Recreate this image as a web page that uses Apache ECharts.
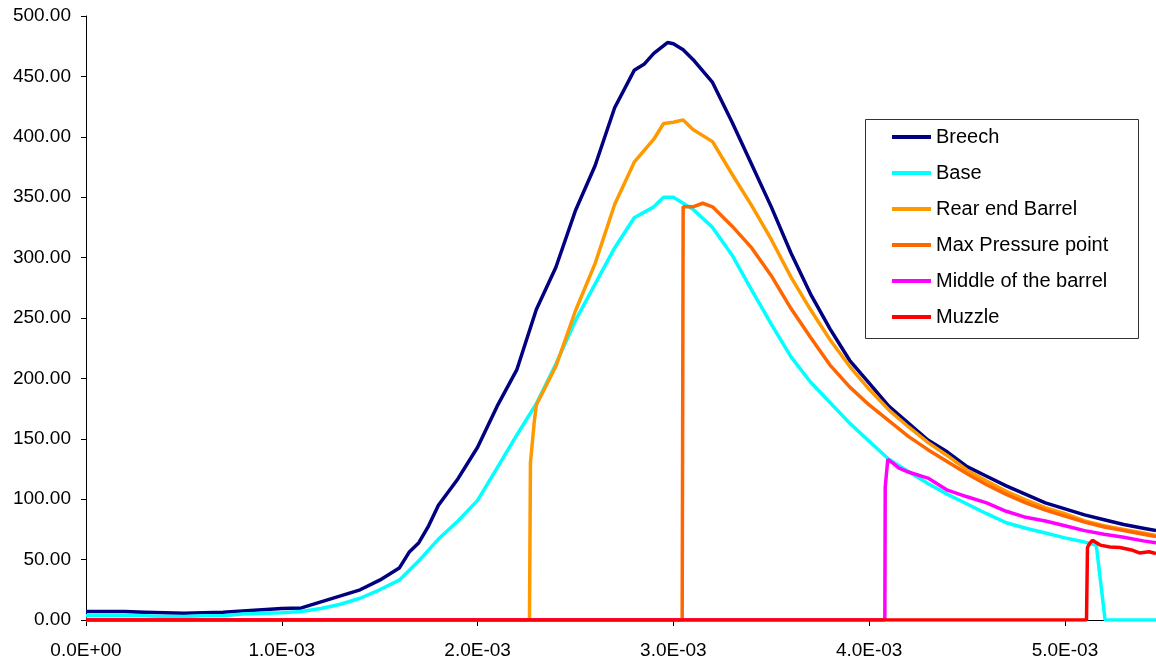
<!DOCTYPE html>
<html>
<head>
<meta charset="utf-8">
<script src="https://cdn.jsdelivr.net/npm/echarts@6/dist/echarts.min.js"></script>
<style>
  html, body { margin: 0; padding: 0; background: #fff; }
  #chart { width: 1156px; height: 664px; }
</style>
</head>
<body>
<div id="chart"></div>
<script>
// time in ms, pressure values
const seriesNames = ['Breech', 'Base', 'Rear end Barrel', 'Max Pressure point', 'Middle of the barrel', 'Muzzle'];
const seriesColors = ['#000080', '#00FFFF', '#FF9900', '#FF6600', '#FF00FF', '#FF0000'];

const breechT = [0, 0.1, 0.2, 0.3, 0.4, 0.5, 0.6, 0.7, 0.8, 0.9, 1.0, 1.1, 1.2, 1.3, 1.4, 1.5, 1.6, 1.65, 1.7, 1.75, 1.8, 1.9, 2.0, 2.1, 2.2, 2.3, 2.4, 2.5, 2.6, 2.7, 2.8, 2.85, 2.9, 2.97, 3.0, 3.05, 3.1, 3.2, 3.3, 3.4, 3.5, 3.6, 3.7, 3.8, 3.9, 4.0, 4.1, 4.2, 4.3, 4.4, 4.5, 4.6, 4.7, 4.8, 4.9, 5.0, 5.1, 5.2, 5.3, 5.4, 5.465];
const breechP = [7, 7, 7, 6.5, 6, 5.5, 6, 6.5, 7.5, 8.5, 9.5, 10, 15, 20, 25, 33, 43, 56, 64, 78, 95, 117, 143, 177, 207, 257, 292, 339, 376, 424, 455, 460, 469, 478, 477, 472, 464, 445, 412, 377, 342, 304, 270, 241, 215, 196, 177, 163, 149, 139, 127, 119, 111, 104, 97, 92, 87, 83, 79, 76, 74];

const baseT = [0, 0.1, 0.2, 0.3, 0.4, 0.5, 0.6, 0.7, 0.8, 0.9, 1.0, 1.1, 1.2, 1.3, 1.4, 1.5, 1.6, 1.7, 1.8, 1.9, 2.0, 2.1, 2.2, 2.3, 2.4, 2.5, 2.6, 2.7, 2.8, 2.9, 2.95, 3.0, 3.1, 3.2, 3.3, 3.4, 3.5, 3.6, 3.7, 3.8, 3.9, 4.0, 4.1, 4.2, 4.3, 4.4, 4.5, 4.6, 4.7, 4.8, 4.9, 5.0, 5.1, 5.16, 5.205, 5.3, 5.465];
const baseP = [3.5, 3.5, 3.5, 3.5, 3, 3, 3.5, 3.5, 5, 5.5, 6, 7, 9.5, 13, 18, 25, 33, 49, 67, 82, 99, 126, 153, 179, 212, 248, 278, 308, 333, 342, 350, 350, 340, 325, 302, 273, 245, 218, 197, 180, 163, 148, 133, 123, 113, 104, 96, 88, 80.5, 76, 72, 68, 64.5, 62, 0, 0, 0];

const rearT = [0, 2.265, 2.27, 2.29, 2.30, 2.4, 2.5, 2.6, 2.7, 2.8, 2.9, 2.95, 3.0, 3.05, 3.1, 3.2, 3.3, 3.4, 3.5, 3.6, 3.7, 3.8, 3.9, 4.0, 4.1, 4.2, 4.3, 4.4, 4.5, 4.6, 4.7, 4.8, 4.9, 5.0, 5.1, 5.2, 5.3, 5.4, 5.465];
const rearP = [0, 0, 130, 165, 178, 210, 256, 295, 344, 379, 398, 411, 412, 414, 406, 396, 369, 343, 315, 284, 257, 232, 210, 191, 174, 160, 147, 136, 124, 115, 106.5, 99.5, 93, 88, 82, 78, 75, 72, 70];

const maxT = [0, 3.045, 3.05, 3.1, 3.15, 3.2, 3.3, 3.4, 3.5, 3.6, 3.7, 3.8, 3.9, 4.0, 4.1, 4.2, 4.3, 4.4, 4.5, 4.6, 4.7, 4.8, 4.9, 5.0, 5.1, 5.2, 5.3, 5.4, 5.465];
const maxP = [0, 0, 342, 342, 345, 342, 326, 308, 285, 258, 234, 211, 193, 178, 165, 152, 141, 131, 121, 112, 104, 97, 91, 86, 81, 77, 74, 71, 69];

const middleT = [0, 4.08, 4.082, 4.095, 4.12, 4.15, 4.2, 4.3, 4.4, 4.5, 4.6, 4.7, 4.8, 4.9, 5.0, 5.1, 5.2, 5.3, 5.4, 5.465];
const middleP = [0, 0, 110, 133, 130, 126, 122.5, 117.5, 107.5, 102, 97, 90, 85, 82, 78, 74, 71, 68.5, 65.5, 64];

const muzzleT = [0, 5.11, 5.115, 5.125, 5.14, 5.18, 5.23, 5.28, 5.34, 5.38, 5.43, 5.465];
const muzzleP = [0, 0, 60, 63, 66, 62, 60.5, 60, 58, 55.5, 56.5, 55];

const yTicks = [0, 50, 100, 150, 200, 250, 300, 350, 400, 450, 500];

const allT = [breechT, baseT, rearT, maxT, middleT, muzzleT];
const allP = [breechP, baseP, rearP, maxP, middleP, muzzleP];

const FONT = '"Liberation Sans", Arial, sans-serif';

function sci(v) {
  if (Math.abs(v) < 1e-12) return '0.0E+00';
  const e = Math.floor(Math.log10(Math.abs(v)) + 1e-9);
  const m = v / Math.pow(10, e);
  const ae = Math.abs(e);
  return m.toFixed(1) + 'E' + (e < 0 ? '-' : '+') + (ae < 10 ? '0' : '') + ae;
}

const series = seriesNames.map(function (name, i) {
  return {
    name: name,
    type: 'line',
    showSymbol: false,
    symbol: 'none',
    animation: false,
    color: seriesColors[i],
    lineStyle: { color: seriesColors[i], width: 3.5 },
    data: allT[i].map(function (t, k) { return [t * 1e-3, allP[i][k]]; })
  };
});

const chart = echarts.init(document.getElementById('chart'));
chart.setOption({
  animation: false,
  color: seriesColors,
  grid: { left: 86, right: 0, top: 16, bottom: 44, containLabel: false },
  legend: {
    data: seriesNames,
    orient: 'vertical',
    left: 892,
    top: 127,
    padding: 0,
    icon: 'rect',
    itemWidth: 39,
    itemHeight: 4,
    itemGap: 16,
    selectedMode: false,
    textStyle: { fontFamily: FONT, fontSize: 20, lineHeight: 20, color: '#000' }
  },
  graphic: [{
    type: 'rect',
    shape: { x: 865.5, y: 119.5, width: 273, height: 219 },
    style: { fill: 'none', stroke: '#333', lineWidth: 1 },
    silent: true
  }],
  xAxis: {
    type: 'value',
    min: 0,
    max: 0.005465,
    interval: 0.001,
    axisLine: { lineStyle: { color: '#000', width: 1 } },
    axisTick: { length: 6, lineStyle: { color: '#000' } },
    splitLine: { show: false },
    axisLabel: {
      formatter: sci,
      showMaxLabel: false,
      margin: 21,
      fontFamily: FONT,
      fontSize: 19,
      color: '#000'
    }
  },
  yAxis: {
    type: 'value',
    min: yTicks[0],
    max: yTicks[yTicks.length - 1],
    interval: 50,
    axisLine: { show: true, lineStyle: { color: '#000', width: 1 } },
    axisTick: { show: true, length: 5, lineStyle: { color: '#000' } },
    splitLine: { show: false },
    axisLabel: {
      formatter: function (v) { return v.toFixed(2); },
      margin: 15,
      fontFamily: FONT,
      fontSize: 19,
      color: '#000'
    }
  },
  series: series
});
</script>
</body>
</html>
